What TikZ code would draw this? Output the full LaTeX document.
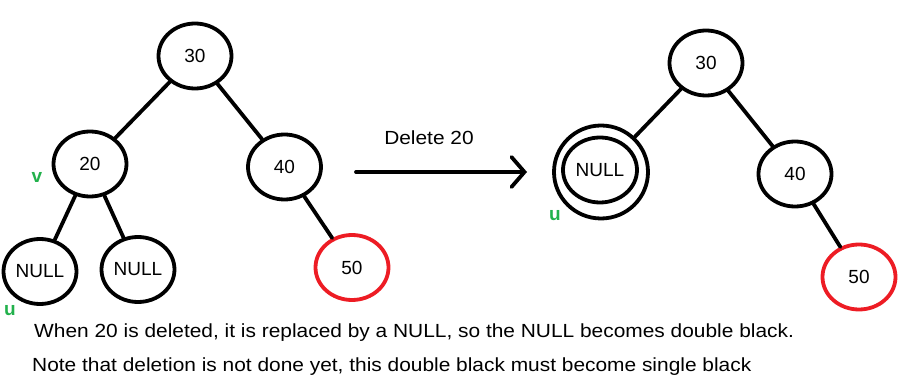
\documentclass[tikz,border=0pt]{standalone}
\usepackage{fontspec}
\setmainfont{Liberation Sans}
\newfontfamily\capfont[FakeStretch=1.1]{Liberation Sans}
\usetikzlibrary{shapes.geometric,arrows.meta}
\definecolor{paintred}{RGB}{237,28,36}
\definecolor{paintgreen}{RGB}{34,177,76}
\begin{document}
\begin{tikzpicture}[x=1pt,y=-1pt,
  tnode/.style={draw=black,line width=3.8pt,ellipse,inner sep=0pt,minimum width=73pt,minimum height=65pt,font=\fontsize{19}{22}\selectfont},
  rednode/.style={tnode,draw=paintred},
  edge/.style={line width=3.8pt,line cap=round},
  lbl/.style={text=paintgreen,font=\fontsize{19}{22}\selectfont\bfseries,inner sep=0pt},
  caption/.style={anchor=west,inner sep=0pt,font=\capfont\fontsize{19}{22}\selectfont}]
\useasboundingbox (0,0) rectangle (898,387);
% left tree
\node[tnode] (l30) at (195,56) {30};
\node[tnode] (l20) at (90,164) {20};
\node[tnode] (l40) at (284.5,167) {40};
\node[tnode] (ln1) at (40,271.5) {NULL};
\node[tnode] (ln2) at (138,269.5) {NULL};
\node[rednode] (l50) at (352,267.5) {50};
\draw[edge] (l30) -- (l20);
\draw[edge] (l30) -- (l40);
\draw[edge] (l20) -- (ln1);
\draw[edge] (l20) -- (ln2);
\draw[edge] (l40) -- (l50);
\node[lbl] (v) at (37,177) {v};
\node[lbl] (u1) at (10,311) {u};
% arrow
\coordinate (as) at (356,172);
\coordinate (ae) at (527,172);
\draw[edge,-{Straight Barb[length=13pt,width=30pt,line cap=round]}] (as) -- (ae);
\node[font=\capfont\fontsize{19}{22}\selectfont] (del) at (429,138) {Delete 20};
% right tree
\node[tnode] (r30) at (706,63) {30};
\node[tnode,minimum width=94pt,minimum height=93pt] (rnull) at (601,172) {};
\node[tnode,minimum width=74pt,minimum height=65pt] (rnin) at (600,170) {NULL};
\node[tnode] (r40) at (795,174) {40};
\node[rednode] (r50) at (859,277) {50};
\draw[edge] (r30) -- (rnull);
\draw[edge] (r30) -- (r40);
\draw[edge] (r40) -- (r50);
\node[lbl] (u2) at (555,216) {u};
% captions
\node[caption] (c1) at (34,333) {When 20 is deleted, it is replaced by a NULL, so the NULL becomes double black.};
\node[caption] (c2) at (32,367) {Note that deletion is not done yet, this double black must become single black};
\end{tikzpicture}
\end{document}
